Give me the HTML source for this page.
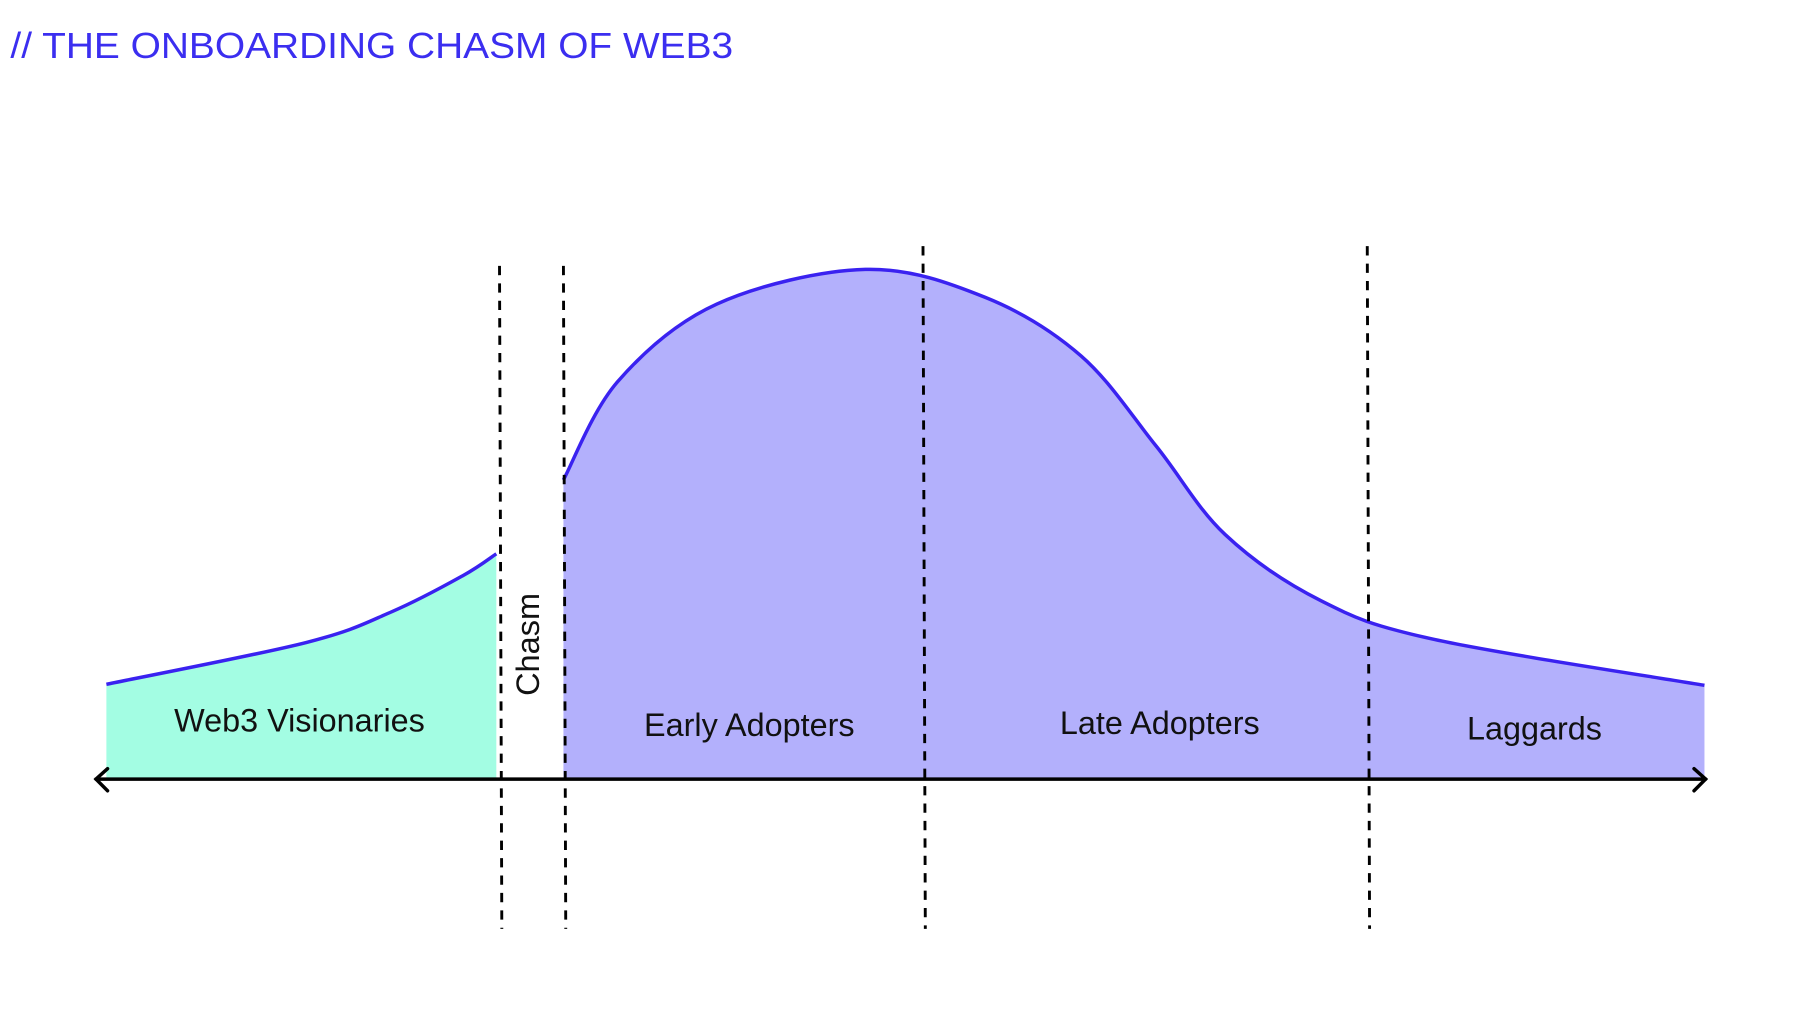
<!DOCTYPE html>
<html><head><meta charset="utf-8"><style>
html,body{margin:0;padding:0;background:#fff;}
svg{display:block;}
</style></head><body>
<svg width="1812" height="1016" viewBox="0 0 1567 875" preserveAspectRatio="none" xmlns="http://www.w3.org/2000/svg" font-family="Liberation Sans, sans-serif">
<text x="9" y="50" font-size="31" fill="#3b2ef0" textLength="625" lengthAdjust="spacingAndGlyphs">// THE ONBOARDING CHASM OF WEB3</text>
<g id="areas"></g>
<g id="dividers"></g>
<g stroke="#000" stroke-width="3" fill="none" stroke-linecap="round">
<line x1="83" y1="671" x2="1475" y2="671"/>
<polyline points="93,662 83,671 93,681"/>
<polyline points="1465,662 1475,671 1465,681"/>
</g>
<g font-size="28" fill="#111" text-anchor="middle">
<text x="259" y="630">Web3 Visionaries</text>
<text transform="translate(466,555) rotate(-90)">Chasm</text>
<text x="648" y="634">Early Adopters</text>
<text x="1003" y="632">Late Adopters</text>
<text x="1327" y="637">Laggards</text>
</g>
</svg>
<script>
// data: x in 0..100 (progression), y in 0..100 (adoption)
const visionaryX = [0, 12.5, 17.9, 22.3, 24.4];
const visionaryY = [18.6, 26.8, 32.9, 39.9, 44.2];
const mainX = [28.6, 32.0, 38.2, 47.5, 55.0, 61.0, 65.7, 70.0, 76.0, 83.1, 100];
const mainY = [58.7, 78.0, 93.2, 100, 94.5, 83.0, 65.3, 48.0, 35.0, 27.4, 18.4];
const dividerX = [24.6, 28.6, 51.1, 78.9];

const X0 = 92, X1 = 1474, Y0 = 671, Y1 = 232;
function xs(v){ return X0 + v*(X1-X0)/100; }
function ys(v){ return Y0 - v*(Y0-Y1)/100; }
function smooth(px, py){
  const p = px.map((x,i)=>[xs(x), ys(py[i])]);
  let d = 'M'+p[0][0]+','+p[0][1];
  for(let i=0;i<p.length-1;i++){
    const a=p[Math.max(i-1,0)], b=p[i], c=p[i+1], e=p[Math.min(i+2,p.length-1)];
    const c1x=b[0]+(c[0]-a[0])/6, c1y=b[1]+(c[1]-a[1])/6;
    const c2x=c[0]-(e[0]-b[0])/6, c2y=c[1]-(e[1]-b[1])/6;
    d+=' C'+c1x+','+c1y+' '+c2x+','+c2y+' '+c[0]+','+c[1];
  }
  return d;
}
const NS='http://www.w3.org/2000/svg';
const areas=document.getElementById('areas');
function addArea(px, py, fill, name){
  const line = smooth(px, py);
  const f=document.createElementNS(NS,'path');
  f.setAttribute('d', line+' L'+xs(px[px.length-1])+','+Y0+' L'+xs(px[0])+','+Y0+' Z');
  f.setAttribute('fill', fill);
  
  
  areas.appendChild(f);
  const l=document.createElementNS(NS,'path');
  l.setAttribute('d', line);
  l.setAttribute('fill','none');
  l.setAttribute('stroke','#3a22f0');
  l.setAttribute('stroke-width','3');
  
  
  areas.appendChild(l);
}
addArea(visionaryX, visionaryY, '#a3fde3', 'visionaries');
addArea(mainX, mainY, '#b3b0fc', 'adoption');
const div=document.getElementById('dividers');
dividerX.forEach((v,i)=>{
  const ln=document.createElementNS(NS,'line');
  const top = i<2 ? 229 : 212;
  ln.setAttribute('x1', xs(v)); ln.setAttribute('x2', xs(v)+2);
  ln.setAttribute('y1', top); ln.setAttribute('y2', 800);
  ln.setAttribute('stroke','#000'); ln.setAttribute('stroke-width','2.5');
  ln.setAttribute('stroke-dasharray','8 7');
  
  
  div.appendChild(ln);
});
</script>
</body></html>
